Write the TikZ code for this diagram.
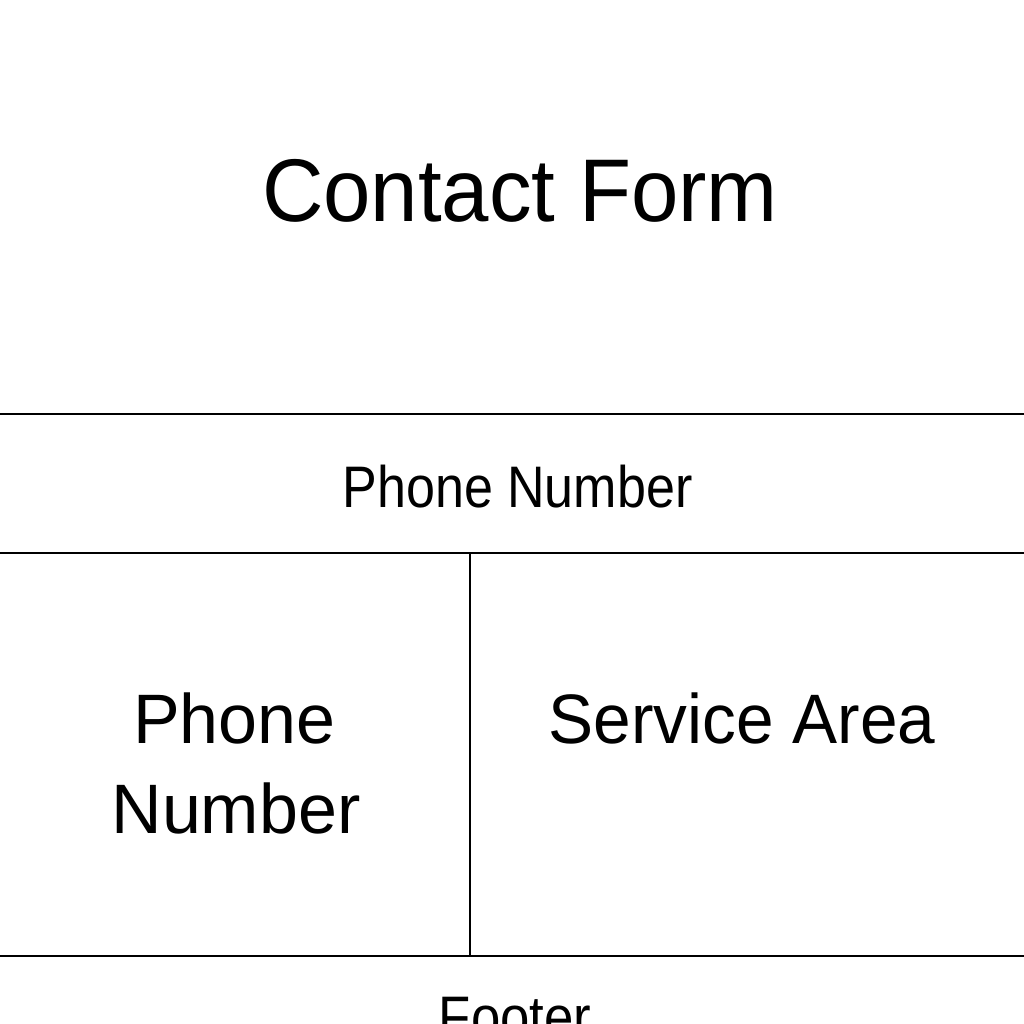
\documentclass[tikz,border=0pt]{standalone}
\usepackage{graphicx}
\usepackage{fontspec}
\setmainfont{Liberation Sans}
\begin{document}
\begin{tikzpicture}[x=1pt,y=-1pt,
  lbl/.style={anchor=base,inner sep=0pt,text=black},
  rule/.style={draw=black,line width=2.6pt},
  big/.style={font=\fontsize{89}{89}\selectfont},
  mid/.style={font=\fontsize{70}{70}\selectfont},
  small/.style={font=\fontsize{58.6}{58.6}\selectfont}]
\useasboundingbox (0,0) rectangle (1024,1024);
\clip (0,0) rectangle (1024,1024);
\fill[white] (0,0) rectangle (1024,1024);
% separators
\coordinate (l1) at (0,414);   \coordinate (r1) at (1024,414);
\coordinate (l2) at (0,553);   \coordinate (r2) at (1024,553);
\coordinate (l3) at (0,956);   \coordinate (r3) at (1024,956);
\coordinate (vt) at (470,553); \coordinate (vb) at (470,956);
\draw[rule] (l1) -- (r1);
\draw[rule] (l2) -- (r2);
\draw[rule] (l3) -- (r3);
\draw[rule] (vt) -- (vb);
% texts
\node[lbl,big] (title) at (520,222) {\scalebox{0.957}[1]{Contact Form}};
\node[lbl,small] (phonebar) at (517.5,507) {\scalebox{0.888}[1]{Phone Number}};
\node[lbl,mid] (phone1) at (234.5,743) {Phone};
\node[lbl,mid] (phone2) at (236,833) {Number};
\node[lbl,mid] (service) at (742,743) {\scalebox{0.965}[1]{Service Area}};
\node[lbl,small] (footer) at (515,1037) {\scalebox{0.9}[1]{Footer}};
\end{tikzpicture}
\end{document}
